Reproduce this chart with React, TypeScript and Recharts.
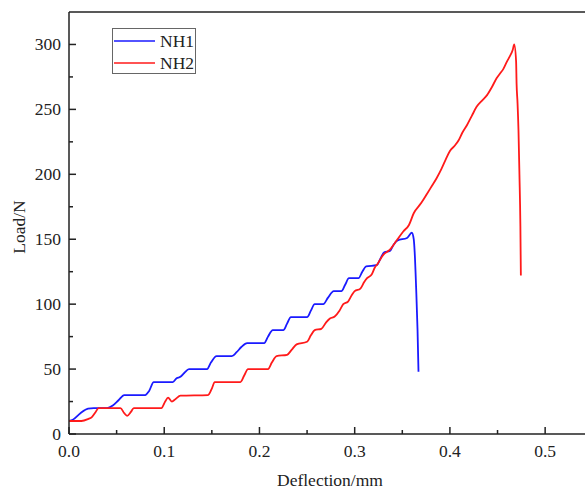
import React from 'react';
import { LineChart, Line, XAxis, YAxis, ReferenceLine, Legend } from 'recharts';

// ─── Data ──────────────────────────────────────────────

const nh1Deflection = [
  0, 0.004, 0.012, 0.02, 0.026, 0.04, 0.046, 0.052, 0.058, 0.08, 0.084, 0.089,
  0.109, 0.113, 0.117, 0.121, 0.126, 0.145, 0.149, 0.155, 0.171, 0.176, 0.181,
  0.187, 0.205, 0.209, 0.214, 0.225, 0.229, 0.233, 0.25, 0.254, 0.258, 0.267,
  0.272, 0.278, 0.286, 0.29, 0.294, 0.304, 0.308, 0.312, 0.323, 0.327, 0.331,
  0.337, 0.341, 0.345, 0.355, 0.36, 0.362, 0.363, 0.3645, 0.366, 0.367,
];
const nh1Load = [
  10, 11, 16, 19.5, 20, 20, 22, 26, 30, 30, 33, 40,
  40, 43, 44, 47, 50, 50, 55, 60, 60, 63, 67,
  70, 70, 75, 80, 80, 85, 90, 90, 95, 100, 100,
  105, 110, 110, 115, 120, 120, 125, 129, 130, 135, 140,
  141, 146, 149, 151, 155, 150, 140, 113, 80, 48,
];

const nh2Deflection = [
  0, 0.013, 0.02, 0.024, 0.028, 0.031, 0.054, 0.058, 0.061, 0.065, 0.068, 0.097,
  0.101, 0.104, 0.108, 0.112, 0.117, 0.146, 0.15, 0.153, 0.18, 0.184, 0.188,
  0.209, 0.213, 0.218, 0.229, 0.234, 0.239, 0.25, 0.254, 0.258, 0.265, 0.27,
  0.274, 0.279, 0.284, 0.288, 0.293, 0.297, 0.3, 0.306, 0.31, 0.313, 0.318,
  0.321, 0.324, 0.33, 0.337, 0.344, 0.351, 0.357, 0.362, 0.37, 0.376, 0.381,
  0.386, 0.391, 0.396, 0.4, 0.405, 0.409, 0.413, 0.418, 0.423, 0.428, 0.434,
  0.439, 0.444, 0.449, 0.453, 0.456, 0.46, 0.463, 0.466, 0.4675, 0.4695, 0.47,
  0.471, 0.472, 0.473, 0.474, 0.4745,
];
const nh2Load = [
  10, 10, 11.5, 13, 17, 20, 20, 16, 14, 17, 20, 20,
  25, 28, 25, 27, 29.5, 30, 35, 40, 40, 45, 50,
  50, 55, 60, 61, 65, 69, 71, 76, 80, 81, 86,
  89, 90.5, 95, 100, 102, 107, 110, 112, 117, 120, 123,
  128, 131, 138, 142, 149, 156, 161, 170, 178, 185, 191,
  197, 204, 212, 218, 222, 226, 232, 238, 245, 252, 257,
  261, 267, 274, 278, 281, 287, 291, 296, 300, 287, 270,
  255, 234, 200, 160, 122,
];

const xTicks = [0, 0.05, 0.1, 0.15, 0.2, 0.25, 0.3, 0.35, 0.4, 0.45, 0.5];
const yTicks = [0, 25, 50, 75, 100, 125, 150, 175, 200, 225, 250, 275, 300];

const seriesNames = ['NH1', 'NH2'];
const seriesColors = ['#1a1aff', '#ff1a1a'];

// ─── Layout ─────────────────────────────

const W = 600;
const H = 489;
const PLOT_LEFT = 69;
const PLOT_BOTTOM = 434;
const FONT = '"Liberation Serif", "Times New Roman", serif';
const INK = '#222';

const toPoints = (xs: number[], ys: number[]) => xs.map((x, i) => ({ x, y: ys[i] }));

const nh1 = toPoints(nh1Deflection, nh1Load);
const nh2 = toPoints(nh2Deflection, nh2Load);

// ─── Inward ticks ──────────────────────────

function YTick({ y, payload }: any) {
  const v = payload.value;
  const major = v % 50 === 0;
  return (
    <g>
      <line x1={PLOT_LEFT} x2={PLOT_LEFT + (major ? 7 : 4)} y1={y} y2={y} stroke={INK} strokeWidth={1.5} />
      {major && (
        <text x={PLOT_LEFT - 8} y={y + 6} textAnchor="end" fontSize={17.5} fill={INK} fontFamily={FONT}>
          {v}
        </text>
      )}
    </g>
  );
}

function XTick({ x, payload }: any) {
  const v = payload.value;
  const major = Math.round(v * 100) % 10 === 0;
  return (
    <g>
      <line x1={x} x2={x} y1={PLOT_BOTTOM} y2={PLOT_BOTTOM - (major ? 7 : 4)} stroke={INK} strokeWidth={1.5} />
      {major && (
        <text x={x} y={PLOT_BOTTOM + 23} textAnchor="middle" fontSize={17.5} fill={INK} fontFamily={FONT}>
          {v.toFixed(1)}
        </text>
      )}
    </g>
  );
}

// ─── Legend box ───────────────────────────

function LegendBox() {
  return (
    <div
      style={{
        border: '1px solid #666',
        width: 84,
        height: 46,
        boxSizing: 'border-box',
        fontFamily: FONT,
        fontSize: 17.5,
        color: INK,
        paddingTop: 1,
      }}
    >
      {seriesNames.map((name, i) => (
        <div key={name} style={{ display: 'flex', alignItems: 'center', height: 22 }}>
          <svg width={46} height={10} style={{ marginLeft: 1 }}>
            <line x1={0} x2={41} y1={5} y2={5} stroke={seriesColors[i]} strokeWidth={1.6} />
          </svg>
          <span style={{ lineHeight: '20px' }}>{name}</span>
        </div>
      ))}
    </div>
  );
}

export default function App() {
  return (
    <div style={{ position: 'absolute', left: 0, top: 0, background: '#fff' }}>
      <LineChart
        width={W}
        height={H}
        margin={{ top: 12, right: 12, left: 9, bottom: 25 }}
        style={{ fontFamily: FONT }}
      >
        <XAxis
          type="number"
          dataKey="x"
          domain={[0, 0.545]}
          ticks={xTicks}
          allowDataOverflow
          height={30}
          tick={<XTick />}
          tickLine={false}
          axisLine={{ stroke: INK, strokeWidth: 1.5 }}
          label={{
            content: () => (
              <text x={330} y={486} textAnchor="middle" fontSize={17.5} fill={INK} fontFamily={FONT}>
                Deflection/mm
              </text>
            ),
          }}
        />
        <YAxis
          type="number"
          domain={[0, 325]}
          ticks={yTicks}
          allowDataOverflow
          width={60}
          tick={<YTick />}
          tickLine={false}
          axisLine={{ stroke: INK, strokeWidth: 1.5 }}
          label={{
            content: () => (
              <text
                x={25}
                y={227}
                transform="rotate(-90 25 227)"
                textAnchor="middle"
                fontSize={17.5}
                fill={INK}
                fontFamily={FONT}
              >
                Load/N
              </text>
            ),
          }}
        />
        <ReferenceLine y={325} stroke={INK} strokeWidth={1.5} />
        <Legend
          layout="vertical"
          align="center"
          verticalAlign="middle"
          wrapperStyle={{ left: 112, top: 28, width: 84 }}
          content={() => <LegendBox />}
        />
        <Line
          data={nh1}
          dataKey="y"
          name="NH1"
          type="monotone"
          stroke={seriesColors[0]}
          strokeWidth={1.8}
          dot={false}
          isAnimationActive={false}
        />
        <Line
          data={nh2}
          dataKey="y"
          name="NH2"
          type="monotone"
          stroke={seriesColors[1]}
          strokeWidth={1.8}
          dot={false}
          isAnimationActive={false}
        />
      </LineChart>
    </div>
  );
}
